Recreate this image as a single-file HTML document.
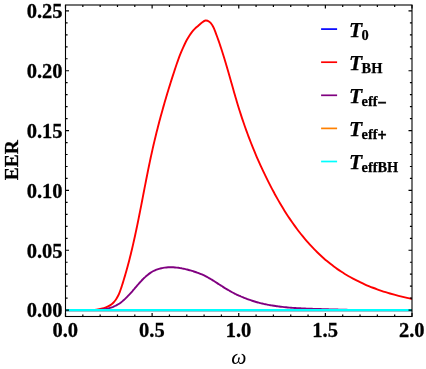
<!DOCTYPE html>
<html><head><meta charset="utf-8"><title>EER plot</title>
<style>
html,body{margin:0;padding:0;background:#fff;}
body{width:426px;height:369px;overflow:hidden;font-family:"Liberation Serif",serif;}
svg{display:block;will-change:transform;}
text{font-family:"Liberation Serif",serif;}
.tk{font-weight:bold;font-size:20.5px;fill:#000;stroke:#000;stroke-width:0.3px;}
.lg{font-weight:bold;font-style:italic;font-size:21.5px;fill:#000;stroke:#000;stroke-width:0.25px;}
.sub{font-weight:bold;font-style:normal;font-size:14.4px;}
.pm{font-size:16px;stroke:#000;stroke-width:0.55px;}
</style></head><body>
<svg width="426" height="369" viewBox="0 0 426 369">
<rect x="0" y="0" width="426" height="369" fill="#fff"/>

<defs><clipPath id="cp"><rect x="65.5" y="5.0" width="346.5" height="311.5"/></clipPath></defs>
<g clip-path="url(#cp)" fill="none" stroke-linecap="butt" stroke-linejoin="round">
<path d="M65.5 310.1 L412.0 310.1" stroke="#0000ff" stroke-width="2.4"/>
<path d="M65.5 310.1 L88 310.1 L88.25 310.06 C88.88 310.04 90.65 310.05 92.03 309.97 C93.40 309.88 94.97 309.77 96.51 309.57 C98.05 309.37 99.71 309.12 101.28 308.76 C102.84 308.39 104.46 307.96 105.91 307.41 C107.37 306.85 108.77 306.19 110.00 305.41 C111.24 304.63 112.32 303.72 113.32 302.73 C114.31 301.75 115.18 300.64 115.97 299.49 C116.77 298.33 117.45 297.08 118.10 295.80 C118.74 294.52 119.29 293.16 119.83 291.80 C120.37 290.43 120.84 289.01 121.31 287.60 C121.79 286.19 122.23 284.76 122.68 283.34 C123.13 281.91 123.57 280.49 124.00 279.06 C124.43 277.64 124.85 276.21 125.27 274.78 C125.68 273.35 126.09 271.92 126.49 270.49 C126.89 269.06 127.28 267.63 127.67 266.19 C128.06 264.76 128.44 263.33 128.81 261.89 C129.19 260.46 129.56 259.02 129.92 257.58 C130.28 256.15 130.64 254.71 130.99 253.27 C131.34 251.83 131.69 250.39 132.03 248.95 C132.37 247.51 132.71 246.07 133.04 244.63 C133.37 243.18 133.70 241.74 134.02 240.30 C134.34 238.85 134.66 237.41 134.98 235.97 C135.29 234.52 135.60 233.08 135.91 231.63 C136.22 230.18 136.52 228.74 136.83 227.29 C137.13 225.84 137.43 224.40 137.72 222.95 C138.02 221.50 138.31 220.05 138.60 218.60 C138.89 217.16 139.18 215.71 139.47 214.26 C139.76 212.81 140.04 211.36 140.33 209.91 C140.61 208.46 140.89 207.01 141.18 205.56 C141.46 204.11 141.74 202.66 142.02 201.21 C142.30 199.76 142.58 198.31 142.86 196.86 C143.14 195.41 143.42 193.96 143.70 192.51 C143.98 191.06 144.26 189.61 144.54 188.16 C144.82 186.71 145.10 185.26 145.39 183.81 C145.67 182.37 145.95 180.92 146.24 179.47 C146.52 178.02 146.81 176.57 147.10 175.12 C147.39 173.67 147.68 172.23 147.97 170.78 C148.26 169.33 148.56 167.88 148.85 166.44 C149.15 164.99 149.45 163.55 149.76 162.10 C150.06 160.65 150.36 159.21 150.67 157.77 C150.98 156.32 151.30 154.88 151.62 153.43 C151.93 151.99 152.25 150.55 152.58 149.11 C152.90 147.67 153.23 146.23 153.57 144.79 C153.90 143.35 154.24 141.91 154.58 140.47 C154.93 139.03 155.27 137.59 155.62 136.16 C155.98 134.72 156.33 133.28 156.69 131.85 C157.05 130.41 157.41 128.98 157.78 127.55 C158.15 126.11 158.52 124.68 158.89 123.25 C159.27 121.82 159.65 120.39 160.03 118.96 C160.42 117.53 160.80 116.10 161.19 114.67 C161.58 113.25 161.98 111.82 162.38 110.39 C162.78 108.97 163.18 107.54 163.58 106.12 C163.99 104.70 164.40 103.27 164.81 101.85 C165.22 100.43 165.64 99.01 166.06 97.59 C166.48 96.17 166.90 94.76 167.33 93.34 C167.76 91.92 168.19 90.51 168.62 89.09 C169.06 87.68 169.49 86.27 169.93 84.85 C170.37 83.44 170.82 82.03 171.26 80.62 C171.71 79.21 172.16 77.80 172.61 76.40 C173.06 74.99 173.52 73.58 173.98 72.18 C174.44 70.78 174.90 69.37 175.37 67.97 C175.83 66.57 176.30 65.17 176.79 63.78 C177.27 62.38 177.76 60.99 178.26 59.60 C178.77 58.22 179.28 56.83 179.81 55.46 C180.35 54.08 180.89 52.71 181.46 51.35 C182.03 49.99 182.62 48.63 183.23 47.28 C183.84 45.94 184.47 44.60 185.13 43.27 C185.79 41.94 186.47 40.61 187.20 39.32 C187.93 38.03 188.68 36.74 189.49 35.51 C190.29 34.27 191.14 33.06 192.06 31.92 C192.97 30.78 193.94 29.69 194.98 28.66 C196.02 27.63 197.17 26.76 198.30 25.76 C199.42 24.77 200.55 23.58 201.75 22.71 C202.95 21.84 204.23 20.71 205.49 20.55 C206.75 20.38 208.19 20.98 209.31 21.73 C210.42 22.48 211.36 23.81 212.18 25.03 C213.01 26.25 213.62 27.67 214.24 29.05 C214.86 30.43 215.35 31.91 215.88 33.33 C216.41 34.74 216.92 36.13 217.42 37.53 C217.92 38.92 218.41 40.29 218.90 41.67 C219.38 43.06 219.85 44.44 220.32 45.83 C220.79 47.22 221.25 48.61 221.70 50.01 C222.15 51.41 222.60 52.81 223.04 54.22 C223.48 55.62 223.92 57.03 224.35 58.44 C224.78 59.85 225.20 61.27 225.63 62.69 C226.05 64.10 226.46 65.52 226.88 66.94 C227.29 68.37 227.71 69.79 228.12 71.21 C228.53 72.64 228.93 74.07 229.34 75.49 C229.75 76.92 230.15 78.35 230.55 79.78 C230.96 81.21 231.36 82.64 231.77 84.07 C232.17 85.50 232.58 86.93 232.98 88.35 C233.39 89.78 233.80 91.21 234.21 92.64 C234.62 94.07 235.03 95.49 235.45 96.92 C235.86 98.34 236.28 99.77 236.70 101.19 C237.13 102.61 237.55 104.03 237.98 105.44 C238.41 106.86 238.85 108.27 239.29 109.69 C239.73 111.10 240.18 112.51 240.64 113.91 C241.09 115.32 241.55 116.72 242.01 118.12 C242.48 119.52 242.95 120.91 243.43 122.31 C243.90 123.70 244.39 125.09 244.88 126.48 C245.37 127.87 245.86 129.26 246.36 130.64 C246.86 132.02 247.37 133.40 247.89 134.78 C248.40 136.16 248.92 137.53 249.45 138.91 C249.97 140.28 250.50 141.65 251.04 143.02 C251.58 144.38 252.13 145.75 252.68 147.11 C253.23 148.48 253.79 149.84 254.35 151.19 C254.92 152.55 255.49 153.91 256.07 155.26 C256.64 156.62 257.23 157.97 257.82 159.32 C258.41 160.67 259.00 162.02 259.61 163.36 C260.21 164.71 260.82 166.05 261.44 167.39 C262.06 168.73 262.68 170.07 263.31 171.41 C263.94 172.75 264.58 174.08 265.23 175.42 C265.87 176.75 266.52 178.08 267.18 179.41 C267.84 180.74 268.50 182.07 269.18 183.40 C269.85 184.72 270.53 186.05 271.22 187.36 C271.90 188.68 272.60 190.00 273.30 191.31 C274.00 192.63 274.72 193.93 275.43 195.24 C276.15 196.54 276.88 197.84 277.62 199.14 C278.35 200.43 279.09 201.72 279.85 203.01 C280.60 204.29 281.36 205.57 282.13 206.85 C282.90 208.12 283.68 209.39 284.47 210.65 C285.26 211.91 286.05 213.16 286.86 214.41 C287.67 215.66 288.48 216.90 289.31 218.13 C290.13 219.36 290.97 220.59 291.81 221.80 C292.66 223.02 293.51 224.23 294.38 225.43 C295.24 226.63 296.12 227.82 297.01 229.00 C297.89 230.18 298.79 231.35 299.70 232.51 C300.60 233.67 301.52 234.83 302.45 235.97 C303.38 237.11 304.32 238.24 305.27 239.36 C306.22 240.48 307.18 241.59 308.16 242.69 C309.13 243.78 310.12 244.87 311.12 245.94 C312.11 247.02 313.12 248.08 314.14 249.13 C315.16 250.18 316.20 251.21 317.24 252.24 C318.29 253.26 319.35 254.27 320.42 255.27 C321.49 256.26 322.57 257.24 323.66 258.21 C324.76 259.18 325.87 260.13 326.99 261.07 C328.11 262.01 329.25 262.93 330.39 263.84 C331.54 264.75 332.70 265.64 333.88 266.52 C335.05 267.40 336.24 268.26 337.45 269.10 C338.65 269.94 339.86 270.77 341.09 271.58 C342.33 272.39 343.57 273.19 344.83 273.96 C346.09 274.74 347.36 275.49 348.65 276.24 C349.93 276.98 351.23 277.70 352.55 278.40 C353.86 279.11 355.18 279.80 356.52 280.47 C357.85 281.14 359.19 281.80 360.55 282.44 C361.90 283.07 363.27 283.70 364.64 284.30 C366.01 284.91 367.39 285.50 368.78 286.07 C370.17 286.64 371.56 287.20 372.96 287.74 C374.36 288.28 375.77 288.81 377.18 289.32 C378.59 289.83 380.01 290.32 381.43 290.80 C382.85 291.28 384.27 291.74 385.69 292.19 C387.12 292.64 388.55 293.08 389.97 293.50 C391.40 293.91 392.83 294.32 394.26 294.71 C395.69 295.10 397.12 295.47 398.55 295.84 C399.97 296.20 401.40 296.55 402.82 296.88 C404.25 297.21 405.67 297.53 407.09 297.84 C408.50 298.14 409.92 298.44 411.32 298.71 C412.73 298.99 414.14 299.26 415.53 299.51 C416.93 299.76 419.01 300.11 419.71 300.23" stroke="#ff0000" stroke-width="1.9"/>
<path d="M65.5 310.1 L92 310.1 L91.80 309.84 C92.10 309.85 92.99 309.91 93.59 309.93 C94.19 309.95 94.79 309.96 95.38 309.96 C95.98 309.97 96.58 309.96 97.17 309.95 C97.77 309.93 98.36 309.91 98.95 309.87 C99.55 309.84 100.14 309.80 100.73 309.74 C101.32 309.69 101.91 309.63 102.49 309.56 C103.07 309.48 103.65 309.40 104.23 309.31 C104.81 309.21 105.39 309.11 105.96 309.00 C106.53 308.88 107.09 308.76 107.65 308.62 C108.22 308.48 108.77 308.34 109.32 308.18 C109.88 308.02 110.42 307.85 110.96 307.67 C111.50 307.49 112.04 307.30 112.57 307.10 C113.09 306.89 113.62 306.68 114.13 306.45 C114.64 306.22 115.15 305.98 115.65 305.73 C116.15 305.48 116.64 305.21 117.12 304.94 C117.61 304.66 118.08 304.37 118.55 304.07 C119.02 303.78 119.49 303.47 119.94 303.15 C120.40 302.83 120.85 302.50 121.30 302.16 C121.74 301.82 122.18 301.47 122.61 301.11 C123.05 300.75 123.47 300.39 123.90 300.01 C124.32 299.64 124.74 299.26 125.15 298.87 C125.57 298.48 125.98 298.09 126.39 297.68 C126.79 297.28 127.20 296.87 127.60 296.46 C128.00 296.05 128.40 295.63 128.79 295.20 C129.19 294.78 129.58 294.35 129.97 293.92 C130.36 293.48 130.75 293.04 131.14 292.60 C131.52 292.16 131.91 291.72 132.30 291.28 C132.68 290.83 133.06 290.38 133.45 289.93 C133.83 289.48 134.22 289.03 134.60 288.58 C134.98 288.12 135.37 287.67 135.75 287.22 C136.14 286.76 136.52 286.31 136.91 285.86 C137.30 285.41 137.69 284.95 138.08 284.50 C138.47 284.05 138.86 283.61 139.25 283.16 C139.65 282.72 140.04 282.28 140.44 281.84 C140.84 281.40 141.24 280.97 141.64 280.54 C142.05 280.11 142.45 279.69 142.86 279.27 C143.27 278.86 143.69 278.45 144.10 278.04 C144.52 277.64 144.94 277.24 145.37 276.86 C145.79 276.47 146.22 276.09 146.66 275.72 C147.09 275.35 147.53 274.99 147.97 274.64 C148.42 274.29 148.87 273.95 149.32 273.62 C149.78 273.29 150.24 272.97 150.71 272.66 C151.17 272.36 151.65 272.07 152.13 271.79 C152.61 271.51 153.09 271.24 153.58 270.99 C154.08 270.74 154.58 270.50 155.08 270.27 C155.59 270.05 156.10 269.84 156.62 269.64 C157.14 269.44 157.66 269.26 158.19 269.09 C158.72 268.92 159.25 268.76 159.79 268.61 C160.33 268.47 160.87 268.34 161.41 268.21 C161.96 268.09 162.51 267.98 163.07 267.89 C163.62 267.79 164.18 267.70 164.74 267.63 C165.30 267.56 165.87 267.49 166.43 267.44 C167.00 267.39 167.57 267.35 168.14 267.32 C168.71 267.29 169.28 267.27 169.86 267.26 C170.43 267.25 171.01 267.25 171.58 267.26 C172.16 267.27 172.74 267.29 173.31 267.31 C173.89 267.34 174.47 267.38 175.05 267.43 C175.62 267.47 176.20 267.53 176.78 267.59 C177.35 267.66 177.93 267.73 178.51 267.81 C179.08 267.89 179.65 267.98 180.23 268.08 C180.80 268.17 181.37 268.28 181.94 268.38 C182.52 268.49 183.09 268.61 183.66 268.73 C184.23 268.86 184.79 268.99 185.36 269.12 C185.93 269.25 186.49 269.39 187.06 269.54 C187.62 269.68 188.19 269.83 188.75 269.99 C189.31 270.14 189.87 270.30 190.43 270.46 C190.99 270.62 191.55 270.79 192.10 270.96 C192.66 271.13 193.22 271.30 193.77 271.48 C194.32 271.65 194.87 271.83 195.42 272.02 C195.97 272.20 196.52 272.39 197.06 272.58 C197.61 272.78 198.15 272.98 198.69 273.18 C199.23 273.39 199.76 273.59 200.30 273.81 C200.83 274.03 201.36 274.25 201.89 274.47 C202.42 274.70 202.94 274.94 203.46 275.18 C203.98 275.42 204.50 275.67 205.01 275.92 C205.52 276.17 206.03 276.44 206.54 276.70 C207.05 276.97 207.55 277.24 208.05 277.52 C208.55 277.79 209.05 278.08 209.55 278.36 C210.04 278.65 210.53 278.94 211.03 279.23 C211.52 279.53 212.01 279.82 212.50 280.12 C212.99 280.42 213.47 280.73 213.96 281.03 C214.44 281.34 214.93 281.65 215.41 281.96 C215.90 282.27 216.38 282.58 216.86 282.89 C217.35 283.21 217.83 283.52 218.31 283.84 C218.79 284.15 219.27 284.47 219.76 284.78 C220.24 285.09 220.72 285.41 221.21 285.72 C221.69 286.03 222.17 286.35 222.66 286.66 C223.14 286.97 223.63 287.28 224.12 287.58 C224.60 287.89 225.09 288.20 225.58 288.50 C226.07 288.80 226.57 289.10 227.06 289.39 C227.56 289.69 228.05 289.98 228.55 290.27 C229.05 290.56 229.55 290.84 230.05 291.12 C230.56 291.41 231.06 291.68 231.57 291.96 C232.07 292.23 232.58 292.50 233.09 292.77 C233.60 293.04 234.12 293.30 234.63 293.56 C235.14 293.82 235.66 294.07 236.18 294.33 C236.70 294.58 237.22 294.83 237.74 295.07 C238.26 295.32 238.78 295.56 239.30 295.79 C239.83 296.03 240.35 296.27 240.88 296.50 C241.41 296.73 241.94 296.95 242.47 297.17 C243.00 297.40 243.53 297.62 244.06 297.83 C244.60 298.05 245.13 298.26 245.67 298.46 C246.20 298.67 246.74 298.87 247.28 299.07 C247.82 299.27 248.36 299.47 248.90 299.66 C249.44 299.85 249.98 300.04 250.53 300.22 C251.07 300.41 251.61 300.59 252.16 300.77 C252.71 300.94 253.25 301.11 253.80 301.28 C254.35 301.45 254.90 301.61 255.45 301.78 C256.00 301.94 256.55 302.09 257.10 302.24 C257.65 302.40 258.20 302.55 258.76 302.69 C259.31 302.84 259.87 302.98 260.42 303.12 C260.98 303.25 261.53 303.39 262.09 303.52 C262.65 303.65 263.21 303.78 263.76 303.90 C264.32 304.03 264.88 304.15 265.44 304.27 C266.00 304.38 266.57 304.50 267.13 304.61 C267.69 304.72 268.25 304.83 268.82 304.93 C269.38 305.04 269.94 305.14 270.51 305.24 C271.07 305.34 271.64 305.43 272.20 305.53 C272.77 305.62 273.34 305.71 273.90 305.80 C274.47 305.89 275.04 305.97 275.61 306.05 C276.18 306.14 276.75 306.21 277.32 306.29 C277.89 306.37 278.46 306.44 279.03 306.52 C279.60 306.59 280.17 306.66 280.74 306.73 C281.31 306.79 281.88 306.86 282.46 306.92 C283.03 306.99 283.60 307.05 284.18 307.11 C284.75 307.16 285.32 307.22 285.90 307.28 C286.47 307.33 287.05 307.38 287.62 307.44 C288.20 307.49 288.77 307.54 289.35 307.58 C289.93 307.63 290.50 307.68 291.08 307.72 C291.65 307.76 292.23 307.81 292.81 307.85 C293.38 307.89 293.96 307.93 294.54 307.97 C295.12 308.00 295.69 308.04 296.27 308.08 C296.85 308.11 297.43 308.14 298.01 308.18 C298.58 308.21 299.16 308.24 299.74 308.27 C300.32 308.30 300.90 308.33 301.48 308.36 C302.05 308.39 302.63 308.41 303.21 308.44 C303.79 308.47 304.37 308.49 304.95 308.52 C305.53 308.54 306.11 308.57 306.68 308.59 C307.26 308.61 307.84 308.63 308.42 308.66 C309.00 308.68 309.58 308.70 310.16 308.72 C310.74 308.74 311.31 308.76 311.89 308.78 C312.47 308.80 313.05 308.82 313.63 308.84 C314.20 308.86 314.78 308.88 315.36 308.90 C315.94 308.92 316.52 308.94 317.09 308.95 C317.67 308.97 318.25 308.99 318.83 309.01 C319.40 309.03 319.98 309.05 320.56 309.07 C321.13 309.08 321.71 309.10 322.29 309.12 C322.86 309.14 323.44 309.16 324.01 309.17 C324.59 309.19 325.17 309.21 325.74 309.23 C326.32 309.24 326.89 309.26 327.47 309.28 C328.04 309.30 328.62 309.31 329.19 309.33 C329.77 309.35 330.34 309.36 330.92 309.38 C331.49 309.40 332.07 309.41 332.64 309.43 C333.22 309.45 333.79 309.46 334.37 309.48 C334.94 309.49 335.52 309.51 336.09 309.53 C336.67 309.54 337.24 309.56 337.81 309.57 C338.39 309.59 338.96 309.60 339.54 309.62 C340.11 309.63 340.68 309.65 341.26 309.66 C341.83 309.68 342.40 309.69 342.98 309.71 C343.55 309.72 344.13 309.73 344.70 309.75 C345.27 309.76 345.85 309.77 346.42 309.79 C346.99 309.80 347.57 309.81 348.14 309.83 C348.71 309.84 349.29 309.85 349.86 309.87 C350.43 309.88 351.01 309.89 351.58 309.90 C352.15 309.92 352.73 309.93 353.30 309.94 C353.87 309.95 354.45 309.96 355.02 309.97 C355.59 309.98 356.16 310.00 356.74 310.01 C357.31 310.02 357.88 310.03 358.46 310.04 C359.03 310.05 359.60 310.06 360.18 310.07 C360.75 310.08 361.32 310.09 361.90 310.10 C362.47 310.10 363.04 310.10 363.62 310.10 C364.19 310.10 364.76 310.10 365.34 310.10 C365.91 310.10 366.48 310.10 367.06 310.10 C367.63 310.10 368.20 310.10 368.78 310.10 C369.35 310.10 369.92 310.10 370.50 310.10 C371.07 310.10 371.64 310.10 372.22 310.10 C372.79 310.10 373.37 310.10 373.94 310.10 C374.51 310.10 375.09 310.10 375.66 310.10 C376.24 310.10 376.81 310.10 377.38 310.10 C377.96 310.10 378.53 310.10 379.11 310.10 C379.68 310.10 380.26 310.10 380.83 310.10 C381.41 310.10 381.98 310.10 382.56 310.10 C383.13 310.10 383.71 310.10 384.28 310.10 C384.86 310.10 385.43 310.10 386.01 310.10 C386.58 310.10 387.16 310.10 387.73 310.10 C388.31 310.10 388.89 310.10 389.46 310.10 C390.04 310.10 390.61 310.10 391.19 310.10 C391.77 310.10 392.34 310.10 392.92 310.10 C393.50 310.10 394.07 310.10 394.65 310.10 C395.23 310.10 395.80 310.10 396.38 310.10 C396.96 310.10 397.54 310.10 398.11 310.10 C398.69 310.10 399.27 310.10 399.85 310.10 C400.43 310.10 401.01 310.10 401.58 310.10 C402.16 310.10 402.74 310.10 403.32 310.10 C403.90 310.10 404.48 310.10 405.06 310.10 C405.64 310.10 406.22 310.10 406.80 310.10 C407.38 310.10 407.96 310.10 408.54 310.10 C409.12 310.10 409.70 310.10 410.28 310.10 C410.86 310.10 411.73 310.10 412.02 310.10" stroke="#800080" stroke-width="1.9"/>
<path d="M65.5 310.1 L412.0 310.1" stroke="#ff8000" stroke-width="2.4"/>
<path d="M65.5 310.1 L412.0 310.1" stroke="#00ffff" stroke-width="2.3"/>
</g>
<rect x="65.5" y="5.0" width="346.5" height="311.5" fill="none" stroke="#000" stroke-width="1.1"/>
<path d="M65.50 316.50 L65.50 313.00 M65.50 5.00 L65.50 8.50 M82.83 316.50 L82.83 314.40 M82.83 5.00 L82.83 7.10 M100.15 316.50 L100.15 314.40 M100.15 5.00 L100.15 7.10 M117.48 316.50 L117.48 314.40 M117.48 5.00 L117.48 7.10 M134.80 316.50 L134.80 314.40 M134.80 5.00 L134.80 7.10 M152.12 316.50 L152.12 313.00 M152.12 5.00 L152.12 8.50 M169.45 316.50 L169.45 314.40 M169.45 5.00 L169.45 7.10 M186.78 316.50 L186.78 314.40 M186.78 5.00 L186.78 7.10 M204.10 316.50 L204.10 314.40 M204.10 5.00 L204.10 7.10 M221.43 316.50 L221.43 314.40 M221.43 5.00 L221.43 7.10 M238.75 316.50 L238.75 313.00 M238.75 5.00 L238.75 8.50 M256.08 316.50 L256.08 314.40 M256.08 5.00 L256.08 7.10 M273.40 316.50 L273.40 314.40 M273.40 5.00 L273.40 7.10 M290.73 316.50 L290.73 314.40 M290.73 5.00 L290.73 7.10 M308.05 316.50 L308.05 314.40 M308.05 5.00 L308.05 7.10 M325.38 316.50 L325.38 313.00 M325.38 5.00 L325.38 8.50 M342.70 316.50 L342.70 314.40 M342.70 5.00 L342.70 7.10 M360.03 316.50 L360.03 314.40 M360.03 5.00 L360.03 7.10 M377.35 316.50 L377.35 314.40 M377.35 5.00 L377.35 7.10 M394.68 316.50 L394.68 314.40 M394.68 5.00 L394.68 7.10 M412.00 316.50 L412.00 313.00 M412.00 5.00 L412.00 8.50 M65.50 310.10 L69.00 310.10 M412.00 310.10 L408.50 310.10 M65.50 298.13 L67.60 298.13 M412.00 298.13 L409.90 298.13 M65.50 286.16 L67.60 286.16 M412.00 286.16 L409.90 286.16 M65.50 274.20 L67.60 274.20 M412.00 274.20 L409.90 274.20 M65.50 262.23 L67.60 262.23 M412.00 262.23 L409.90 262.23 M65.50 250.26 L69.00 250.26 M412.00 250.26 L408.50 250.26 M65.50 238.29 L67.60 238.29 M412.00 238.29 L409.90 238.29 M65.50 226.32 L67.60 226.32 M412.00 226.32 L409.90 226.32 M65.50 214.36 L67.60 214.36 M412.00 214.36 L409.90 214.36 M65.50 202.39 L67.60 202.39 M412.00 202.39 L409.90 202.39 M65.50 190.42 L69.00 190.42 M412.00 190.42 L408.50 190.42 M65.50 178.45 L67.60 178.45 M412.00 178.45 L409.90 178.45 M65.50 166.48 L67.60 166.48 M412.00 166.48 L409.90 166.48 M65.50 154.52 L67.60 154.52 M412.00 154.52 L409.90 154.52 M65.50 142.55 L67.60 142.55 M412.00 142.55 L409.90 142.55 M65.50 130.58 L69.00 130.58 M412.00 130.58 L408.50 130.58 M65.50 118.61 L67.60 118.61 M412.00 118.61 L409.90 118.61 M65.50 106.64 L67.60 106.64 M412.00 106.64 L409.90 106.64 M65.50 94.68 L67.60 94.68 M412.00 94.68 L409.90 94.68 M65.50 82.71 L67.60 82.71 M412.00 82.71 L409.90 82.71 M65.50 70.74 L69.00 70.74 M412.00 70.74 L408.50 70.74 M65.50 58.77 L67.60 58.77 M412.00 58.77 L409.90 58.77 M65.50 46.80 L67.60 46.80 M412.00 46.80 L409.90 46.80 M65.50 34.84 L67.60 34.84 M412.00 34.84 L409.90 34.84 M65.50 22.87 L67.60 22.87 M412.00 22.87 L409.90 22.87 M65.50 10.90 L69.00 10.90 M412.00 10.90 L408.50 10.90" stroke="#000" stroke-width="1.2" fill="none"/>
<text class="tk" x="62.6" y="317.40" text-anchor="end">0.00</text>
<text class="tk" x="62.6" y="257.56" text-anchor="end">0.05</text>
<text class="tk" x="62.6" y="197.72" text-anchor="end">0.10</text>
<text class="tk" x="62.6" y="137.88" text-anchor="end">0.15</text>
<text class="tk" x="62.6" y="78.04" text-anchor="end">0.20</text>
<text class="tk" x="62.6" y="18.20" text-anchor="end">0.25</text>
<text class="tk" x="65.20" y="337.3" text-anchor="middle">0.0</text>
<text class="tk" x="151.82" y="337.3" text-anchor="middle">0.5</text>
<text class="tk" x="238.45" y="337.3" text-anchor="middle">1.0</text>
<text class="tk" x="325.07" y="337.3" text-anchor="middle">1.5</text>
<text class="tk" x="411.70" y="337.3" text-anchor="middle">2.0</text>
<text class="tk" font-size="19.5" transform="translate(17.5 160.3) rotate(-90)" text-anchor="middle" style="font-size:19.5px">EER</text>
<text x="238.9" y="364.0" text-anchor="middle" style="font-style:italic;font-size:21.5px">ω</text>
<path d="M321.1 29.10 L337.1 29.10" stroke="#0000ff" stroke-width="1.7" fill="none"/>
<text class="lg" x="349.0" y="36.65">T<tspan class="sub" dx="-0.6" dy="3.2">0</tspan></text>
<path d="M321.1 62.20 L337.1 62.20" stroke="#ff0000" stroke-width="1.7" fill="none"/>
<text class="lg" x="349.0" y="69.75">T<tspan class="sub" dx="-0.6" dy="3.2">BH</tspan></text>
<path d="M321.1 95.30 L337.1 95.30" stroke="#800080" stroke-width="1.7" fill="none"/>
<text class="lg" x="349.0" y="102.85">T<tspan class="sub" dx="-0.6" dy="3.2">eff<tspan class="pm" dy="2.0">−</tspan></tspan></text>
<path d="M321.1 128.40 L337.1 128.40" stroke="#ff8000" stroke-width="1.7" fill="none"/>
<text class="lg" x="349.0" y="135.95">T<tspan class="sub" dx="-0.6" dy="3.2">eff<tspan class="pm" dy="2.0">+</tspan></tspan></text>
<path d="M321.1 161.50 L337.1 161.50" stroke="#00ffff" stroke-width="1.7" fill="none"/>
<text class="lg" x="349.0" y="169.05">T<tspan class="sub" dx="-0.6" dy="3.2">effBH</tspan></text>
</svg></body></html>
